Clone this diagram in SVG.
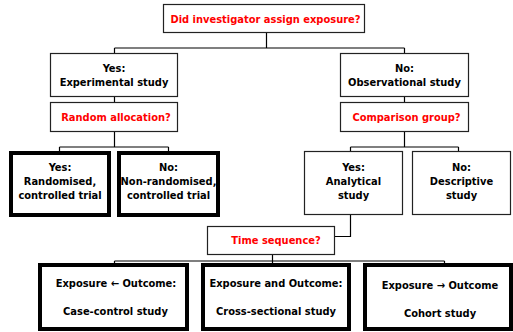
<svg xmlns="http://www.w3.org/2000/svg" width="513" height="332" viewBox="0 0 513 332">
<style>
.box{fill:#fff;stroke:#222;stroke-width:1.2}
.thick{fill:#fff;stroke:#000;stroke-width:4}
.t{font-family:"DejaVu Sans Condensed","DejaVu Sans",Verdana,sans-serif;font-weight:bold;font-size:11px;fill:#000;text-anchor:middle}
.q{fill:#ff0000}
.c{fill:none;stroke:#000;stroke-width:1.2}
</style>
<rect width="513" height="332" fill="#fff"/>
<g id="connectors">
<path class="c" d="M266.5 33V48M114.5 48H404.5M114.5 48V53M404.5 48V53"/>
<path class="c" d="M114.5 97V102M404.5 97V102"/>
<path class="c" d="M114.5 132V147M59.5 147H168.5M59.5 147V151M168.5 147V151"/>
<path class="c" d="M404.5 132V147M350.5 147H458.5M350.5 147V151M458.5 147V151"/>
<path class="c" d="M350.5 215V236.5H335"/>
<path class="c" d="M272.5 255V261M114.5 261H444.5M114.5 261V263M272.5 261V263M444.5 261V263"/>
</g>
<g id="q1"><rect class="box" x="163.5" y="4.5" width="201" height="28"/><text class="t q" x="265.5" y="22.5">Did investigator assign exposure?</text></g>
<g id="yes1"><rect class="box" x="50.5" y="53.5" width="127" height="43"/><text class="t" x="114" y="71.5">Yes:</text><text class="t" x="114" y="85.5">Experimental study</text></g>
<g id="no1"><rect class="box" x="340.5" y="53.5" width="128" height="43"/><text class="t" x="404.5" y="71.5">No:</text><text class="t" x="404.5" y="85.5">Observational study</text></g>
<g id="q2"><rect class="box" x="50.5" y="102.5" width="127" height="29"/><text class="t q" x="116" y="121">Random allocation?</text></g>
<g id="q3"><rect class="box" x="340.5" y="102.5" width="128" height="29"/><text class="t q" x="406.5" y="121">Comparison group?</text></g>
<g id="rct"><rect class="thick" x="11" y="153" width="98" height="62"/><text class="t" x="60" y="170.5">Yes:</text><text class="t" x="60" y="185">Randomised,</text><text class="t" x="60" y="199">controlled trial</text></g>
<g id="nrct"><rect class="thick" x="119" y="153" width="99" height="62"/><text class="t" x="168.5" y="170.5">No:</text><text class="t" x="168.5" y="185">Non-randomised,</text><text class="t" x="168.5" y="199">controlled trial</text></g>
<g id="analytical"><rect class="box" x="304.5" y="151.5" width="98" height="63"/><text class="t" x="353.5" y="170.5">Yes:</text><text class="t" x="353.5" y="185">Analytical</text><text class="t" x="353.5" y="199">study</text></g>
<g id="descriptive"><rect class="box" x="412.5" y="151.5" width="98" height="63"/><text class="t" x="461.5" y="170.5">No:</text><text class="t" x="461.5" y="185">Descriptive</text><text class="t" x="461.5" y="199">study</text></g>
<g id="q4"><rect class="box" x="207.5" y="226.5" width="127" height="28"/><text class="t q" x="276" y="244">Time sequence?</text></g>
<g id="casecontrol"><rect class="thick" x="40" y="265" width="147" height="64"/><text class="t" x="116" y="287">Exposure ← Outcome:</text><text class="t" x="115.5" y="315">Case-control study</text></g>
<g id="crosssectional"><rect class="thick" x="203" y="265" width="146" height="64"/><text class="t" x="276" y="287">Exposure and Outcome:</text><text class="t" x="276" y="315">Cross-sectional study</text></g>
<g id="cohort"><rect class="thick" x="365" y="265" width="146" height="64"/><text class="t" x="440" y="289">Exposure → Outcome</text><text class="t" x="440" y="317">Cohort study</text></g>
</svg>
